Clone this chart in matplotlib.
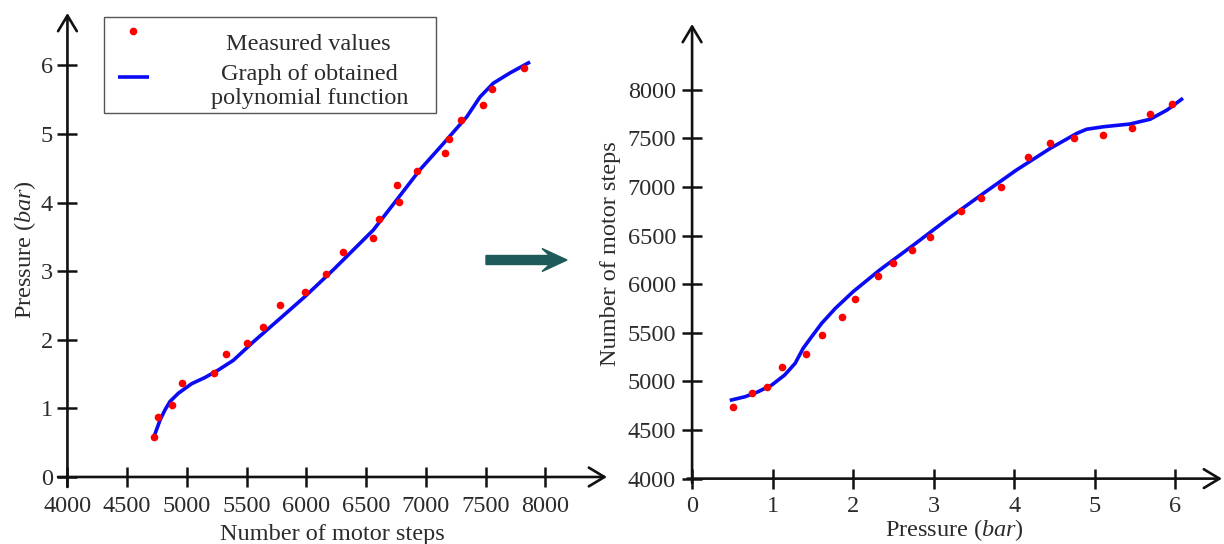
import matplotlib
matplotlib.use("Agg")
import matplotlib.pyplot as plt
import matplotlib.transforms as mtransforms
from matplotlib.patches import FancyArrow
from matplotlib.legend_handler import HandlerLine2D

# ---------------- data ----------------
# Left chart: pressure (bar) as a function of number of motor steps
left_meas_steps = [4724, 4755, 4878, 4956, 5229, 5327, 5500, 5634, 5779, 5988, 6162,
                   6309, 6560, 6608, 6756, 6773, 6928, 7160, 7191, 7294, 7481, 7551, 7824]
left_meas_press = [0.59, 0.88, 1.05, 1.37, 1.51, 1.79, 1.95, 2.19, 2.50, 2.69, 2.96,
                   3.28, 3.49, 3.76, 4.25, 4.01, 4.46, 4.72, 4.93, 5.20, 5.42, 5.65, 5.96]
left_fit_steps = [4727, 4775, 4817, 4858, 4928, 5040, 5151, 5263, 5388, 5556, 5779, 5988,
                  6225, 6560, 6756, 6951, 7146, 7342, 7453, 7564, 7704, 7872]
left_fit_press = [0.60, 0.83, 0.98, 1.10, 1.22, 1.36, 1.45, 1.56, 1.70, 1.97, 2.31, 2.63,
                  3.02, 3.60, 4.04, 4.48, 4.86, 5.25, 5.54, 5.74, 5.89, 6.05]

# Right chart: number of motor steps as a function of pressure (bar)
right_meas_press = [0.51, 0.75, 0.93, 1.12, 1.41, 1.61, 1.86, 2.02, 2.31, 2.49, 2.73,
                    2.96, 3.34, 3.59, 3.84, 4.17, 4.45, 4.75, 5.11, 5.46, 5.69, 5.96]
right_meas_steps = [4740, 4884, 4939, 5148, 5285, 5477, 5663, 5845, 6087, 6221, 6352,
                    6489, 6756, 6887, 6998, 7307, 7456, 7507, 7538, 7610, 7748, 7854]
right_fit_press = [0.49, 0.66, 0.82, 0.99, 1.15, 1.28, 1.38, 1.47, 1.61, 1.78, 2.00,
                   2.33, 2.75, 3.16, 3.62, 4.03, 4.45, 4.78, 4.90, 5.11, 5.44, 5.69, 5.90, 6.08]
right_fit_steps = [4809, 4843, 4894, 4963, 5066, 5186, 5341, 5443, 5598, 5752, 5923,
                   6146, 6403, 6661, 6935, 7175, 7398, 7552, 7594, 7620, 7648, 7697, 7792, 7902]

left_xticks = [4000, 4500, 5000, 5500, 6000, 6500, 7000, 7500, 8000]
left_yticks = [0, 1, 2, 3, 4, 5, 6]
right_xticks = [0, 1, 2, 3, 4, 5, 6]
right_yticks = [4000, 4500, 5000, 5500, 6000, 6500, 7000, 7500, 8000]

label_measured = 'Measured values'
label_fit = 'Graph of obtained\npolynomial function'

# ---------------- style ----------------
W, H = 1224, 544
plt.rcParams['font.family'] = ['Liberation Serif', 'DejaVu Serif']
plt.rcParams['mathtext.fontset'] = 'custom'
plt.rcParams['mathtext.rm'] = 'Liberation Serif'
plt.rcParams['mathtext.it'] = 'Liberation Serif:italic'

TEXT = '#2b2b2b'
AXC = '#111111'
RED = '#ff0000'
BLUE = '#0a0af5'
FS = 17.5

fig = plt.figure(figsize=(W / 100, H / 100), dpi=100)


def add_axes_px(left, top, right, bottom):
    return fig.add_axes([left / W, 1 - bottom / H, (right - left) / W, (bottom - top) / H])


def style_axes(ax, x0, y0):
    for s in ax.spines.values():
        s.set_visible(False)
    ax.spines['left'].set_position(('data', x0))
    ax.spines['bottom'].set_position(('data', y0))
    ax.tick_params(direction='inout', length=15, width=1.8, color=AXC,
                   labelcolor=TEXT, labelsize=FS, top=False, right=False)
    ax.patch.set_alpha(0)
    arrow = dict(arrowstyle='->,head_length=0.75,head_width=0.45', lw=1.9, color=AXC,
                 shrinkA=0, shrinkB=0, mutation_scale=15)
    ax.annotate('', xy=(1, y0), xytext=(0, y0), xycoords=ax.get_yaxis_transform(),
                textcoords=ax.get_yaxis_transform(), arrowprops=arrow)
    ax.annotate('', xy=(x0, 1), xytext=(x0, 0), xycoords=ax.get_xaxis_transform(),
                textcoords=ax.get_xaxis_transform(), arrowprops=arrow)


class ShiftedHandler(HandlerLine2D):
    """Legend handler that draws the key shifted by a few pixels, as in the reference."""

    def __init__(self, dx=0, dy=0, **kw):
        super().__init__(**kw)
        self.dx = dx
        self.dy = dy

    def create_artists(self, legend, orig_handle, xdescent, ydescent, width, height,
                       fontsize, trans):
        trans = trans + mtransforms.Affine2D().translate(self.dx, self.dy)
        return super().create_artists(legend, orig_handle, xdescent, ydescent, width,
                                      height, fontsize, trans)


# ---------------- left chart ----------------
ax1 = add_axes_px(58, 13, 607, 487)
ax1.set_xlim(3921, 8516)
ax1.set_ylim(-0.146, 6.764)
style_axes(ax1, 4000, 0)
ax1.set_xticks(left_xticks)
ax1.set_yticks(left_yticks)
ax1.tick_params(axis='x', pad=6)
ax1.tick_params(axis='y', pad=3)

fit_line, = ax1.plot(left_fit_steps, left_fit_press, color=BLUE, lw=2.6,
                     solid_joinstyle='round', solid_capstyle='butt', zorder=2)
meas_pts, = ax1.plot(left_meas_steps, left_meas_press, 'o', color=RED, ms=5.5, mec='none',
                     zorder=3)
ax1.set_xlabel('Number of motor steps', fontsize=FS, color=TEXT, labelpad=5)
ax1.set_ylabel('Pressure ($\\mathit{bar}$)', fontsize=FS, color=TEXT, labelpad=2)

leg = ax1.legend([meas_pts, fit_line], [label_measured, label_fit], loc='upper left',
                 bbox_to_anchor=(104 / W, 1 - 114 / H, 332 / W, 97 / H),
                 bbox_transform=fig.transFigure, mode='expand',
                 title=' ', title_fontsize=3.5,
                 frameon=True, fancybox=False, framealpha=1, edgecolor='#555555',
                 fontsize=FS, handlelength=1.28, handletextpad=2.97, borderpad=0.15,
                 labelspacing=0.36, borderaxespad=0,
                 handler_map={meas_pts: ShiftedHandler(dx=10, dy=11),
                              fit_line: ShiftedHandler(dx=10, dy=9.5)})
leg.get_frame().set_linewidth(1.0)
for t in leg.get_texts():
    t.set_multialignment('center')
    t.set_color(TEXT)
    t.set_linespacing(1.2)
leg.get_texts()[0].set_x(15)

# ---------------- right chart ----------------
ax2 = add_axes_px(687.5, 24, 1222, 483)
ax2.set_xlim(-0.057, 6.583)
ax2.set_ylim(3955, 8677)
style_axes(ax2, 0, 4000)
ax2.set_xticks(right_xticks)
ax2.set_yticks(right_yticks)
ax2.tick_params(axis='x', pad=5)
ax2.tick_params(axis='y', pad=4)

ax2.plot(right_fit_press, right_fit_steps, color=BLUE, lw=2.6, solid_joinstyle='round',
         zorder=2)
ax2.plot(right_meas_press, right_meas_steps, 'o', color=RED, ms=5.5, mec='none', zorder=3)
ax2.set_xlabel('Pressure ($\\mathit{bar}$)', fontsize=FS, color=TEXT, labelpad=0)
ax2.set_ylabel('Number of motor steps', fontsize=FS, color=TEXT, labelpad=5)

# ---------------- connecting arrow ----------------
arr = FancyArrow(4.86, 2.84, 0.81, 0.0, width=0.09, head_width=0.23, head_length=0.25,
                 overhang=0.3, length_includes_head=True, color='#1e5a5a',
                 transform=fig.dpi_scale_trans)
fig.patches.append(arr)

fig.savefig('out.png', dpi=100)
